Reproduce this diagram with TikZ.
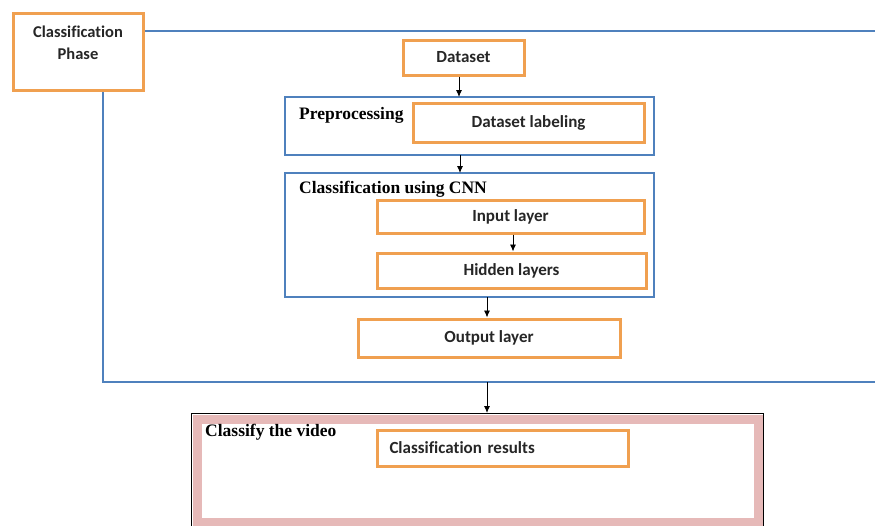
\documentclass[tikz,border=0pt]{standalone}
\usepackage{fontspec}
\setmainfont{Liberation Serif}
\newfontfamily\boxfont[Ligatures=NoCommon]{Carlito}
\usetikzlibrary{arrows.meta}
\definecolor{orng}{HTML}{F0A050}
\definecolor{blu}{HTML}{4F81BD}
\definecolor{pnk}{HTML}{E6B9B8}
\tikzset{
  obox/.style={draw=orng,line width=3pt,fill=white,font=\boxfont\bfseries\fontsize{17}{19}\selectfont,text=black!85},
  bbox/.style={draw=blu,line width=2.8pt},
  ttl/.style={anchor=west,font=\bfseries\fontsize{17.5}{19}\selectfont,inner sep=0pt},
  arr/.style={-{Latex[length=7pt,width=6pt]},line width=0.9pt},
}
\begin{document}
\begin{tikzpicture}[x=1pt,y=-1pt]
\useasboundingbox (0,0) rectangle (875,525);
% outer blue frame
\coordinate (ftr) at (876,31);
\coordinate (fbl) at (103,382);
\coordinate (fbr) at (876,382);
\draw[bbox] (143,31) -- (ftr);
\draw[bbox] (103,90) -- (fbl) -- (fbr);
% classification phase
\draw[orng,line width=3pt,fill=white] (13,13) rectangle (143,90);
\node[font=\boxfont\bfseries\fontsize{16.5}{22}\selectfont,align=center,anchor=north,text=black!85,inner sep=0pt] (phase) at (78,25.5) {Classification\\Phase};
% dataset
\node[obox,minimum width=121pt,minimum height=35pt] (ds) at (463.5,57.5) {Dataset};
% preprocessing
\draw[bbox] (285,97) rectangle (654,155);
\coordinate (pretop) at (459,97);
\coordinate (prebot) at (460,155);
\node[ttl] (pretitle) at (299,115) {Preprocessing};
\node[obox,minimum width=231pt,minimum height=39pt] (lab) at (528.5,122.5) {Dataset labeling};
% cnn
\draw[bbox] (285,173) rectangle (654,297);
\coordinate (cnntop) at (460,173);
\coordinate (cnnbot) at (487,297);
\node[ttl] (cnntitle) at (299,189) {Classification using CNN};
\node[obox,minimum width=267pt,minimum height=33pt] (inp) at (510.5,216.5) {Input layer};
\node[obox,minimum width=269pt,minimum height=35pt] (hid) at (511.5,270.5) {Hidden layers};
% output
\node[obox,minimum width=262pt,minimum height=38pt] (out) at (489,338) {Output layer};
% classify the video
\draw[black,line width=0.8pt] (191.5,413.5) rectangle (763.5,530);
\draw[pnk,line width=9pt] (197,419) rectangle (758,522);
\coordinate (vidtop) at (487,413);
\coordinate (framebot) at (487,382);
\node[ttl] (vidtitle) at (205,432) {Classify the video};
\node[obox,minimum width=251pt,minimum height=36pt,text width=226pt,align=left] (res) at (502.5,448) {Classification results};
% arrows
\draw[arr] (ds.south -| pretop) -- (pretop);
\draw[arr] (prebot) -- (cnntop);
\draw[arr] (inp.south -| 513,0) -- (hid.north -| 513,0);
\draw[arr] (cnnbot) -- (out.north -| cnnbot);
\draw[arr] (framebot) -- (vidtop);
\end{tikzpicture}
\end{document}
